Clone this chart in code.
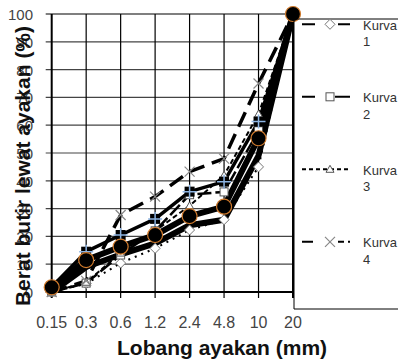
<!DOCTYPE html>
<html>
<head>
<meta charset="utf-8">
<script src="https://cdn.jsdelivr.net/npm/d3@7"></script>
<style>
  body { margin: 0; background: #fff; }
  svg { display: block; font-family: "Liberation Sans", Arial, sans-serif; }
</style>
</head>
<body>
<div id="chart"></div>
<script>
// Sieve sizes (mm) and percentages passing
const sieves = ["0.15", "0.3", "0.6", "1.2", "2.4", "4.8", "10", "20"];
const yTicks = [0, 10, 20, 30, 40, 50, 60, 70, 80, 90, 100];

const kurva1 = [0, 3, 10.4, 15.7, 22.3, 26, 45, 100];
const kurva2 = [0, 3.2, 13.3, 22, 35, 36, 58, 100];
const kurva3 = [0, 3.5, 14, 22, 31, 42, 64, 100];
const kurva4 = [0, 4, 27.7, 34.3, 43.3, 48, 75, 100];
const batasBawah = [0, 9, 13.5, 17.5, 24, 26, 49, 100];
const contohKotak = [1.8, 14.5, 20.5, 26.3, 36.1, 39.7, 61.3, 100];
const contohBulat = [1.7, 11.5, 16.3, 20.5, 27.3, 30.7, 55.3, 100];

const legendNames = ["Kurva", "Kurva", "Kurva", "Kurva"];
const legendNums = ["1", "2", "3", "4"];

const width = 398;
const height = 360;
const margin = { top: 14, right: 105, bottom: 68, left: 51.7 };

const svg = d3
  .select("#chart")
  .append("svg")
  .attr("width", width)
  .attr("height", height);

const x = d3
  .scalePoint()
  .domain(sieves)
  .range([margin.left, width - margin.right]);

const y = d3
  .scaleLinear()
  .domain([0, 100])
  .range([height - margin.bottom, margin.top]);

// grid
svg
  .append("g")
  .selectAll("line")
  .data(yTicks)
  .join("line")
  .attr("x1", margin.left - 6)
  .attr("x2", x("20"))
  .attr("y1", (d) => y(d))
  .attr("y2", (d) => y(d))
  .attr("stroke", (d) => (d === 0 || d === 100 ? "#000" : "#444"))
  .attr("stroke-width", (d) => (d === 0 ? 2 : 1.2));

svg
  .append("g")
  .selectAll("line")
  .data(sieves)
  .join("line")
  .attr("x1", (d) => x(d))
  .attr("x2", (d) => x(d))
  .attr("y1", y(100))
  .attr("y2", y(0) + 6)
  .attr("stroke", "#000")
  .attr("stroke-width", (d) => (d === "0.15" || d === "20" ? 2 : 1.2));

// tick labels
svg
  .append("g")
  .selectAll("text")
  .data(yTicks)
  .join("text")
  .attr("x", 33)
  .attr("y", (d) => y(d) + 6)
  .attr("text-anchor", "end")
  .attr("font-size", 15)
  .attr("fill", "#444")
  .text((d) => d);

svg
  .append("g")
  .selectAll("text")
  .data(sieves)
  .join("text")
  .attr("x", (d) => x(d))
  .attr("y", 328)
  .attr("text-anchor", "middle")
  .attr("font-size", 16)
  .attr("fill", "#444")
  .text((d) => d);

// axis titles
svg
  .append("text")
  .attr("x", 117)
  .attr("y", 355)
  .attr("font-size", 21)
  .attr("font-weight", "bold")
  .attr("fill", "#111")
  .text("Lobang ayakan (mm)");

svg
  .append("text")
  .attr("transform", "translate(30,166) rotate(-90)")
  .attr("text-anchor", "middle")
  .attr("font-size", 21)
  .attr("font-weight", "bold")
  .attr("fill", "#111")
  .text("Berat butir lewat ayakan (%)");

// series
const series = [
  { values: batasBawah, width: 6, dash: null, marker: null },
  { values: kurva1, width: 2, dash: "2,5", marker: "diamond" },
  { values: kurva2, width: 2.5, dash: "14,4", marker: "square" },
  { values: kurva3, width: 2, dash: "5,3", marker: "triangle" },
  { values: kurva4, width: 3.5, dash: "16,8", marker: "cross" },
  { values: contohKotak, width: 3.5, dash: null, marker: "filled" },
  { values: contohBulat, width: 6, dash: null, marker: "circle" },
];

const line = d3
  .line()
  .x((d, i) => x(sieves[i]))
  .y((d) => y(d));

svg
  .append("g")
  .selectAll("path")
  .data(series)
  .join("path")
  .attr("d", (s) => line(s.values))
  .attr("fill", "none")
  .attr("stroke", "#000")
  .attr("stroke-width", (s) => s.width)
  .attr("stroke-dasharray", (s) => s.dash)
  .attr("stroke-linejoin", "round");

function drawMarker(g, type, cx, cy) {
  if (type === "diamond") {
    g.append("path")
      .attr("d", `M${cx},${cy - 5}L${cx + 5},${cy}L${cx},${cy + 5}L${cx - 5},${cy}Z`)
      .attr("fill", "#fff")
      .attr("stroke", "#777");
  } else if (type === "square") {
    g.append("rect")
      .attr("x", cx - 4)
      .attr("y", cy - 4)
      .attr("width", 8)
      .attr("height", 8)
      .attr("fill", "#fff")
      .attr("stroke", "#555");
  } else if (type === "triangle") {
    g.append("path")
      .attr("d", `M${cx},${cy - 4}L${cx + 4},${cy + 3}L${cx - 4},${cy + 3}Z`)
      .attr("fill", "#fff")
      .attr("stroke", "#555");
  } else if (type === "cross") {
    g.append("path")
      .attr("d", `M${cx - 5},${cy - 5}L${cx + 5},${cy + 5}M${cx - 5},${cy + 5}L${cx + 5},${cy - 5}`)
      .attr("stroke", "#888")
      .attr("stroke-width", 1.2);
  } else if (type === "filled") {
    g.append("rect")
      .attr("x", cx - 5)
      .attr("y", cy - 5)
      .attr("width", 10)
      .attr("height", 10)
      .attr("fill", "#000");
    g.append("path")
      .attr("d", `M${cx - 7},${cy}L${cx + 7},${cy}M${cx},${cy - 7}L${cx},${cy + 7}`)
      .attr("stroke", "#8db4e2")
      .attr("stroke-width", 1.5);
  } else if (type === "circle") {
    g.append("circle")
      .attr("cx", cx)
      .attr("cy", cy)
      .attr("r", 7.5)
      .attr("fill", "#000")
      .attr("stroke", "#d07a2c")
      .attr("stroke-width", 1.2);
  }
}

const markers = svg.append("g");
series.forEach((s) => {
  if (!s.marker) return;
  s.values.forEach((v, i) => drawMarker(markers, s.marker, x(sieves[i]), y(v)));
});

// legend box (runs off the right edge)
const lx = 294;
svg
  .append("path")
  .attr("d", `M${width + 2},19H${lx}V309H${width + 2}`)
  .attr("fill", "none")
  .attr("stroke", "#000")
  .attr("stroke-width", 1);

const legendSeries = [series[1], series[2], series[3], series[4]];
const legendDash = ["13,23,12", "13,20,15", "4,3", "11,25,6,4,6"];
legendSeries.forEach((s, i) => {
  const ly = 24.3 + i * 72.5;
  svg
    .append("line")
    .attr("x1", 302)
    .attr("x2", 350)
    .attr("y1", ly)
    .attr("y2", ly)
    .attr("stroke", "#000")
    .attr("stroke-width", 2)
    .attr("stroke-dasharray", legendDash[i]);
  drawMarker(svg, s.marker, 330, ly);
  svg
    .append("text")
    .attr("x", 363)
    .attr("y", ly + 5.5)
    .attr("font-size", 13)
    .attr("fill", "#333")
    .text(legendNames[i]);
  svg
    .append("text")
    .attr("x", 363)
    .attr("y", ly + 22)
    .attr("font-size", 13)
    .attr("fill", "#333")
    .text(legendNums[i]);
});
</script>
</body>
</html>
